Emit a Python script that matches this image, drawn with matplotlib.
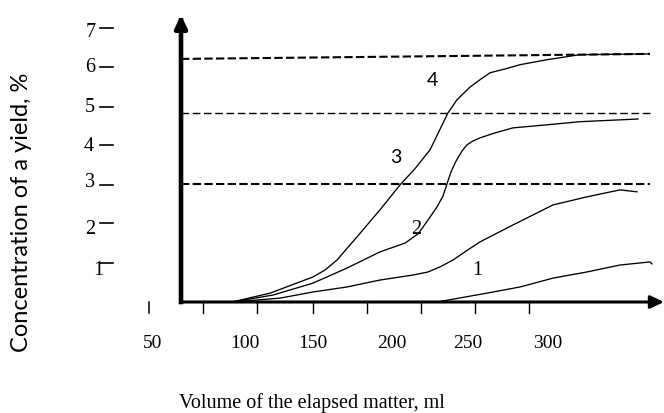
import matplotlib
matplotlib.use("Agg")
import matplotlib.pyplot as plt
from matplotlib.patches import FancyArrowPatch

# ---------------- data ----------------
# volume of elapsed matter, ml  /  concentration of yield, %
c4_x = [94.1, 119.1, 147.3, 155.2, 163.1, 176.2, 191.3, 204.5, 214.5, 224.2, 236.0, 241.9, 250.5, 257.0, 263.6, 273.5, 283.3, 301.1, 322.7, 366.8]
c4_y = [0.0, 0.23, 0.65, 0.83, 1.09, 1.69, 2.39, 3.04, 3.47, 3.95, 4.91, 5.25, 5.58, 5.77, 5.95, 6.05, 6.16, 6.29, 6.42, 6.44]

c3_x = [94.1, 121.0, 147.3, 169.6, 191.3, 207.8, 216.4, 222.9, 228.8, 232.7, 235.3, 238.0, 241.3, 245.2, 248.5, 252.4, 257.0, 266.9, 278.7, 301.1, 322.7, 360.8]
c3_y = [0.0, 0.18, 0.49, 0.88, 1.30, 1.53, 1.77, 2.13, 2.47, 2.75, 3.06, 3.38, 3.66, 3.92, 4.08, 4.18, 4.26, 4.39, 4.52, 4.60, 4.68, 4.75]

c2_x = [94.1, 125.6, 147.3, 169.6, 191.3, 213.0, 222.9, 230.7, 239.3, 247.8, 257.0, 278.7, 305.0, 327.3, 349.0, 360.2]
c2_y = [0.0, 0.10, 0.26, 0.39, 0.57, 0.70, 0.78, 0.91, 1.09, 1.32, 1.56, 2.00, 2.52, 2.73, 2.91, 2.86]

c1_x = [228.8, 261.6, 283.3, 305.0, 327.3, 349.0, 368.7, 370.0]
c1_y = [0.0, 0.23, 0.39, 0.62, 0.78, 0.96, 1.04, 0.99]

# dashed reference levels (left end, right end)
level_left = [3.06, 4.91, 6.31]
level_right = [3.06, 4.91, 6.44]

x_tick_labels = ["50", "100", "150", "200", "250", "300"]
y_tick_labels = ["7", "6", "5", "4", "3", "2", "1"]
curve_labels = ["1", "2", "3", "4"]

# ---------------- layout ----------------
W, H = 664, 413
fig = plt.figure(figsize=(W / 100, H / 100), dpi=100)
ax_l, ax_r, ax_b, ax_t = 181, 664, 302, 15
ax = fig.add_axes([ax_l / W, (H - ax_b) / H, (ax_r - ax_l) / W, (ax_b - ax_t) / H])
X0, X1 = 60.6, 377.9
Y0, Y1 = 0.0, 7.45
ax.set_xlim(X0, X1)
ax.set_ylim(Y0, Y1)
ax.axis("off")

serif = ["Liberation Serif", "DejaVu Serif"]
sans = ["Lato", "DejaVu Sans"]

# dashed horizontal lines
styles = [dict(lw=1.5, ls=(0, (4, 1.6))), dict(lw=1.0, ls=(0, (5.5, 2.6))), dict(lw=1.5, ls=(0, (4, 1.6)))]
for yl, yr, st in zip(level_left, level_right, styles):
    ax.plot([X0, 368.7], [yl, yr], color="black", **st, clip_on=False)

# curves
for xs, ys in [(c1_x, c1_y), (c2_x, c2_y), (c3_x, c3_y), (c4_x, c4_y)]:
    ax.plot(xs, ys, color="black", lw=0.95, solid_joinstyle="round", clip_on=False)

# axes with arrows
ax.add_patch(FancyArrowPatch((X0, 0), (X1, 0), arrowstyle="-|>,head_length=0.8,head_width=0.38",
                             mutation_scale=10, lw=2.2, color="black", shrinkA=0, shrinkB=0,
                             clip_on=False, zorder=5))
ax.add_patch(FancyArrowPatch((X0, 0), (X0, Y1), arrowstyle="-|>,head_length=0.75,head_width=0.36",
                             mutation_scale=10, lw=3.3, color="black", shrinkA=0, shrinkB=0,
                             clip_on=False, zorder=5, capstyle="projecting"))

# tick marks on the x axis
tick_marks = [75.0, 110.5, 147.3, 182.8, 218.3, 253.8, 289.2]
for t in tick_marks:
    ax.plot([t, t], [0, -0.29], color="black", lw=1.0, clip_on=False)
# stray tick left of the axis
ax.plot([39.6, 39.6], [0.0, -0.29], color="black", lw=1.1, clip_on=False)

# x tick labels
x_label_pos = [42.2, 102.5, 147.2, 199.2, 249.1, 301.7]
for lab, xp in zip(x_tick_labels, x_label_pos):
    ax.text(xp, -1.065, lab, ha="center", va="center", fontsize=14, family=serif, clip_on=False)

# y tick labels with their short dashes
ytrans = ax.get_yaxis_transform()
y_label_pos = [7.0, 6.1, 5.04, 4.03, 3.09, 1.87, 0.83]
y_dash_pos = [7.12, 6.10, 5.06, 4.08, 3.04, 2.05, 1.01]
y_label_x = [-0.188, -0.188, -0.188, -0.192, -0.188, -0.188, -0.171]
for lab, yp, yd, xl in zip(y_tick_labels, y_label_pos, y_dash_pos, y_label_x):
    ax.text(xl, yp, lab, transform=ytrans, ha="center", va="center", fontsize=14.5,
            family=serif, clip_on=False)
    ax.plot([-0.168, -0.141], [yd, yd], transform=ytrans, color="black", lw=1.2, clip_on=False)

# curve labels
curve_label_pos = [(255.1, 0.83), (215.0, 1.87), (201.8, 3.74), (225.5, 5.74)]
curve_label_fonts = [serif, serif, sans, sans]
curve_label_sizes = [14.5, 14.5, 14, 14]
for lab, (xp, yp), fam, fs in zip(curve_labels, curve_label_pos, curve_label_fonts, curve_label_sizes):
    ax.text(xp, yp, lab, ha="center", va="center", fontsize=fs, family=fam)

# axis titles
ax.text((312 - ax_l) / (ax_r - ax_l), (ax_b - 403) / (ax_b - ax_t), "Volume of the elapsed matter, ml",
        transform=ax.transAxes, ha="center", va="center", fontsize=14.5, family=serif, clip_on=False)
fig.text(22 / W, (H - 212) / H, "Concentration of a yield, %", rotation=90, ha="center", va="center",
         fontsize=17, family=sans)

fig.savefig("out.png", dpi=100)
